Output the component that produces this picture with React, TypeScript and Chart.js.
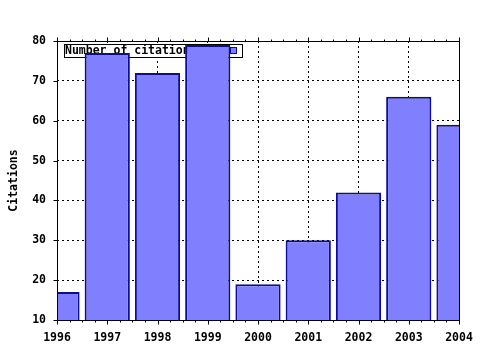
import React, { useEffect, useRef } from "react";
import { Chart, registerables } from "chart.js";

Chart.register(...registerables);

const years = [1996, 1997, 1998, 1999, 2000, 2001, 2002, 2003, 2004];
const citations = [17, 77, 72, 79, 19, 30, 42, 66, 59];
const seriesLabel = "Number of citations";
const yAxisTitle = "Citations";
const yMin = 10;
const yMax = 80;
const yStep = 10;

const FILL = "#8080ff";
const EDGE = "#0c0c9c";
const FONT = { family: "'DejaVu Sans Mono', monospace", weight: "bold" as const, size: 11.5 };

const gnuplotPlugin = {
  id: "gnuplotDecor",
  beforeDatasetsDraw(chart: any) {
    const ctx = chart.ctx;
    const ca = chart.chartArea;
    ctx.save();
    const bx = ca.left + 7.5;
    const by = ca.top + 3.5;
    const bw = 178;
    const bh = 13;
    ctx.fillStyle = "#ffffff";
    ctx.fillRect(bx, by, bw, bh);
    ctx.strokeStyle = "#000";
    ctx.lineWidth = 1;
    ctx.strokeRect(bx, by, bw, bh);
    ctx.fillStyle = "#000";
    ctx.font = `bold ${FONT.size}px ${FONT.family}`;
    ctx.textBaseline = "middle";
    ctx.textAlign = "left";
    ctx.fillText(seriesLabel, bx + 0.5, by + bh / 2 + 0.5);
    ctx.fillStyle = FILL;
    ctx.fillRect(bx + 166, by + 3, 6, 6);
    ctx.strokeStyle = EDGE;
    ctx.strokeRect(bx + 166, by + 3, 6, 6);
    ctx.restore();
  },
  afterDatasetsDraw(chart: any) {
    const ctx = chart.ctx;
    const ca = chart.chartArea;
    const xs = chart.scales.x;
    const ys = chart.scales.y;
    ctx.save();
    ctx.strokeStyle = "#000";
    ctx.lineWidth = 1;
    const L = Math.round(ca.left) + 0.5;
    const R = Math.round(ca.right) + 0.5;
    const T = Math.round(ca.top) + 0.5;
    const B = Math.round(ca.bottom) + 0.5;
    ctx.strokeRect(L, T, R - L, B - T);
    ctx.beginPath();
    for (let i = 0; i < years.length; i++) {
      for (let k = 0; k < 4; k++) {
        const v = years[i] + k * 0.25;
        if (v > years[years.length - 1]) break;
        const px = Math.round(xs.getPixelForValue(v)) + 0.5;
        const len = k === 0 ? 4 : 2;
        ctx.moveTo(px, B);
        ctx.lineTo(px, B + len);
        ctx.moveTo(px, T);
        ctx.lineTo(px, T - len);
      }
    }
    for (let v = yMin; v <= yMax; v += yStep) {
      const py = Math.round(ys.getPixelForValue(v)) + 0.5;
      ctx.moveTo(L, py);
      ctx.lineTo(L - 4, py);
    }
    ctx.stroke();
    ctx.restore();
  },
};

export default function App() {
  const ref = useRef<HTMLCanvasElement | null>(null);
  useEffect(() => {
    if (!ref.current) return;
    const chart = new Chart(ref.current, {
      type: "bar",
      data: {
        datasets: [
          {
            label: seriesLabel,
            data: years.map((y, i) => ({ x: y, y: citations[i] })),
            backgroundColor: FILL,
            borderColor: EDGE,
            borderWidth: 2,
            borderSkipped: "start",
            barPercentage: 0.9,
            categoryPercentage: 1.0,
            clip: 0,
          } as any,
        ],
      },
      options: {
        responsive: false,
        animation: false,
        events: [],
        layout: { padding: { top: 41, right: 21, left: 0, bottom: 0 } },
        plugins: { legend: { display: false }, tooltip: { enabled: false } },
        scales: {
          x: {
            type: "linear",
            min: years[0],
            max: years[years.length - 1],
            offset: false,
            afterFit: (s: any) => {
              s.height = 30;
              s.paddingLeft = 0;
              s.paddingRight = 0;
            },
            afterBuildTicks: (s: any) => {
              s.ticks = years.map((v) => ({ value: v }));
            },
            ticks: {
              stepSize: 1,
              autoSkip: false,
              maxRotation: 0,
              color: "#000",
              font: FONT,
              padding: 11,
              callback: (v: any) => String(v),
            },
            grid: { offset: false, color: "#000", lineWidth: 1, drawTicks: false },
            border: { display: false, dash: [2, 3] },
          },
          y: {
            min: yMin,
            max: yMax,
            afterFit: (s: any) => {
              s.width = 57;
              s.paddingTop = 0;
              s.paddingBottom = 0;
            },
            ticks: { stepSize: yStep, color: "#000", font: FONT, padding: 11 },
            grid: { color: "#000", lineWidth: 1, drawTicks: false },
            border: { display: false, dash: [2, 3] },
            title: {
              display: true,
              text: yAxisTitle,
              color: "#000",
              font: FONT,
              padding: { top: 7.5, bottom: 0 },
            },
          },
        },
      },
      plugins: [gnuplotPlugin],
    });
    return () => chart.destroy();
  }, []);
  return (
    <div style={{ position: "absolute", left: 0, top: 0, width: 480, height: 350, background: "#fff" }}>
      <canvas ref={ref} width={480} height={350} style={{ display: "block" }} />
    </div>
  );
}
